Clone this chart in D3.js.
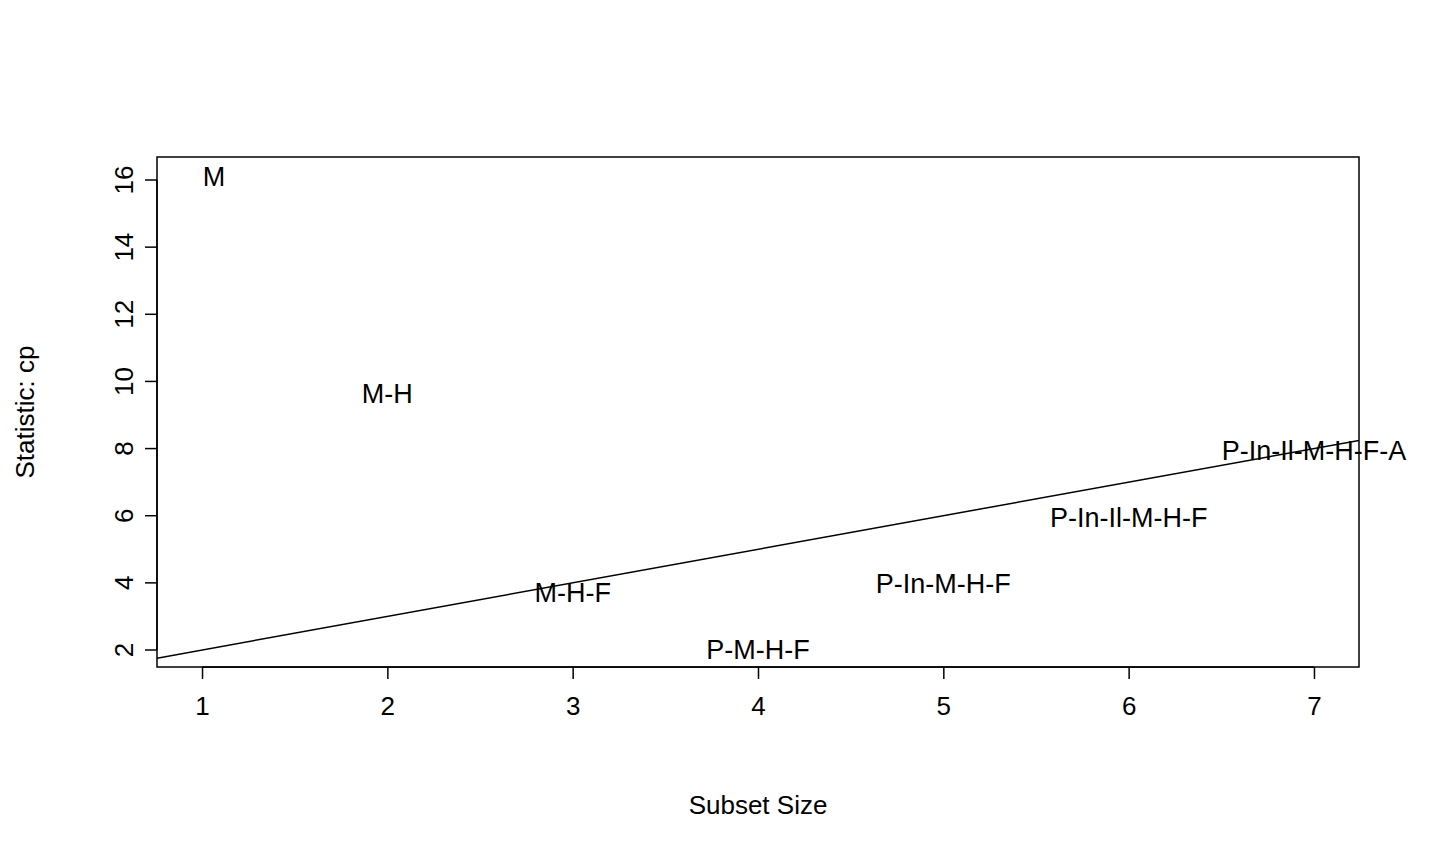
<!DOCTYPE html>
<html lang="en">
<head>
<meta charset="UTF-8">
<title>Subset Size vs cp</title>
<style>
  body { margin: 0; background: #fff; }
  svg text { font-family: "Liberation Sans", Arial, sans-serif; fill: #000; }
</style>
</head>
<body>
<svg id="chart" width="1440" height="864"></svg>
<script src="https://d3js.org/d3.v7.min.js"></script>
<script>
// Subset labels and their positions (size, cp)
const labels = ['M', 'M-H', 'M-H-F', 'P-M-H-F', 'P-In-M-H-F', 'P-In-Il-M-H-F', 'P-In-Il-M-H-F-A'];
const sizes = [1, 2, 3, 4, 5, 6, 7];
const cpValues = [16.1, 9.63, 3.7, 2.0, 3.97, 5.96, 7.93];
const xTicks = [1, 2, 3, 4, 5, 6, 7];
const yTicks = [2, 4, 6, 8, 10, 12, 14, 16];

const mLeft = 157, mRight = 1359, mTop = 157, mBottom = 667;
const svg = d3.select('#chart');

const x = d3.scaleLinear().domain([0.757, 7.243]).range([mLeft, mRight]);
const y = d3.scaleLinear().domain([1.494, 16.685]).range([mBottom, mTop]);

// plot box
svg.append('rect')
  .attr('x', mLeft).attr('y', mTop)
  .attr('width', mRight - mLeft).attr('height', mBottom - mTop)
  .attr('fill', 'none').attr('stroke', '#000').attr('stroke-width', 1.5);

// x axis
const xAxis = svg.append('g')
  .attr('transform', `translate(0,${mBottom})`)
  .call(d3.axisBottom(x).tickValues(xTicks).tickSize(12).tickPadding(18).tickFormat(d3.format('d')));
xAxis.select('.domain').attr('d', `M${x(1)},0H${x(7)}`).attr('stroke-width', 1.5);
xAxis.selectAll('line').attr('stroke-width', 1.5);
xAxis.selectAll('text').style('font-size', '26px');

// y axis
const yAxis = svg.append('g')
  .attr('transform', `translate(${mLeft},0)`)
  .call(d3.axisLeft(y).tickValues(yTicks).tickSize(12).tickFormat(d3.format('d')));
yAxis.select('.domain').attr('d', `M0,${y(2)}V${y(16)}`).attr('stroke-width', 1.5);
yAxis.selectAll('.tick').attr('transform', null);
yAxis.selectAll('.tick line').attr('stroke-width', 1.5)
  .attr('transform', d => `translate(0,${y(d)})`);
yAxis.selectAll('.tick text')
  .attr('x', null).attr('dy', null).attr('y', 9)
  .attr('text-anchor', 'middle')
  .attr('transform', d => `translate(-33,${y(d)}) rotate(-90)`)
  .style('font-size', '26px');

// axis titles
svg.append('text').attr('x', (mLeft + mRight) / 2).attr('y', 814)
  .attr('text-anchor', 'middle').style('font-size', '26px').text('Subset Size');
svg.append('text')
  .attr('transform', `translate(34,${(mTop + mBottom) / 2}) rotate(-90)`)
  .attr('text-anchor', 'middle').style('font-size', '26px').text('Statistic: cp');

// reference line cp = p (size + 1)
svg.append('clipPath').attr('id', 'clip')
  .append('rect').attr('x', mLeft).attr('y', mTop).attr('width', mRight - mLeft).attr('height', mBottom - mTop);
svg.append('line')
  .attr('clip-path', 'url(#clip)')
  .attr('x1', x(0.757)).attr('y1', y(1.757))
  .attr('x2', x(7.243)).attr('y2', y(8.243))
  .attr('stroke', '#000').attr('stroke-width', 1.5);

// labels
svg.selectAll('.lab')
  .data(labels)
  .enter().append('text')
  .attr('class', 'lab')
  .attr('x', (d, i) => x(sizes[i]) + (i === 0 ? 12 : 0))
  .attr('y', (d, i) => y(cpValues[i]))
  .attr('dy', '0.35em')
  .attr('text-anchor', 'middle')
  .style('font-size', '27px')
  .text(d => d);
</script>
</body>
</html>
